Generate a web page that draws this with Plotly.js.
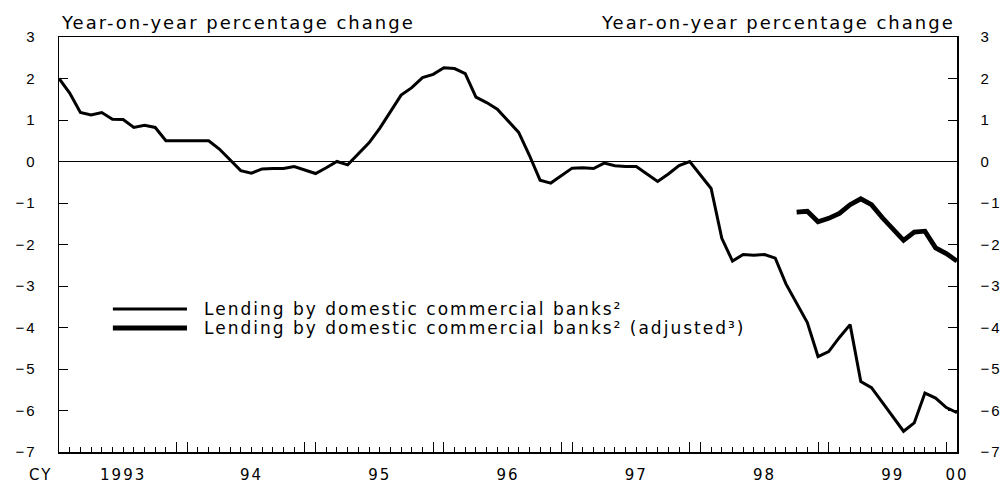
<!DOCTYPE html>
<html>
<head>
<meta charset="utf-8">
<script src="https://cdn.plot.ly/plotly-3.0.1.min.js"></script>
<style>
  html, body { margin: 0; padding: 0; background: #fff; }
  text { letter-spacing: 2px; }
</style>
</head>
<body>
<div id="chart" style="width:1006px;height:486px;"></div>
<script>
// Monthly data, January 1993 (index 0) to January 2000 (index 84)
const lending = [
  2.0, 1.65, 1.18, 1.12, 1.18, 1.02, 1.01, 0.82, 0.87, 0.82,
  0.5, 0.5, 0.5, 0.5, 0.5, 0.3, 0.05, -0.22, -0.28, -0.18,
  -0.17, -0.17, -0.12, -0.2, -0.29, -0.15, 0.0, -0.08, 0.18, 0.45,
  0.8, 1.2, 1.6, 1.78, 2.02, 2.1, 2.26, 2.24, 2.12, 1.55,
  1.42, 1.26, 0.98, 0.7, 0.15, -0.45, -0.52, -0.33, -0.16, -0.15,
  -0.17, -0.04, -0.1, -0.12, -0.12, -0.3, -0.48, -0.3, -0.1, 0.0,
  -0.32, -0.65, -1.85, -2.4, -2.24, -2.26, -2.24, -2.33, -2.95, -3.4,
  -3.88, -4.7, -4.58, -4.24, -3.93, -5.3, -5.45, -5.8, -6.14, -6.5,
  -6.3, -5.58, -5.7, -5.93, -6.05
];
const lendingAdjStart = 69; // October 1998
const lendingAdj = [
  -1.22, -1.2, -1.45, -1.37, -1.25, -1.04, -0.9, -1.04, -1.35, -1.64,
  -1.9, -1.7, -1.68, -2.08, -2.22, -2.4
];
const yearLabels = ['1993', '94', '95', '96', '97', '98', '99', '00'];
const seriesNames = [
  'Lending by domestic commercial banks²',
  'Lending by domestic commercial banks² (adjusted³)'
];
const axisTitle = 'Year-on-year percentage change';

const xMain = lending.map((_, i) => i);
const xAdj = lendingAdj.map((_, i) => i + lendingAdjStart);
const nYears = yearLabels.length - 1;
const yearBoundaryTicks = [];
for (let k = 1; k <= nYears; k++) {
  yearBoundaryTicks.push(k * 12 - 1);
  if (k < nYears) yearBoundaryTicks.push(k * 12);
}
const yearLabelPos = yearLabels.map((_, k) => k < nYears ? k * 12 + 6 : k * 12);

const traces = [
  { x: xMain, y: lending, type: 'scatter', mode: 'lines', name: seriesNames[0],
    line: { color: '#000', width: 3 }, showlegend: false, hoverinfo: 'skip' },
  { x: xAdj, y: lendingAdj, type: 'scatter', mode: 'lines', name: seriesNames[1],
    line: { color: '#000', width: 4.8 }, showlegend: false, hoverinfo: 'skip' },
  { x: [0], y: [null], xaxis: 'x2', yaxis: 'y2', type: 'scatter', mode: 'lines',
    showlegend: false, hoverinfo: 'skip' }
];

const fontFam = 'DejaVu Sans, Liberation Sans, Arial, sans-serif';
const tickFam = 'Liberation Sans, Arial, sans-serif';
const xr = [0, 84];
const yr = [-7, 3];

const layout = {
  width: 1006, height: 486,
  margin: { l: 59, r: 49, t: 37, b: 34 },
  paper_bgcolor: '#fff', plot_bgcolor: '#fff',
  font: { family: fontFam, color: '#000', size: 14 },
  showlegend: false,
  xaxis: {
    range: xr, showgrid: false, zeroline: false,
    showline: true, linecolor: '#000', linewidth: 1.5, mirror: true,
    tickmode: 'array', tickvals: yearBoundaryTicks, ticks: 'inside',
    ticklen: 10, tickwidth: 1, tickcolor: '#000', showticklabels: false,
    minor: { tickmode: 'linear', tick0: 0, dtick: 1, ticks: 'inside', ticklen: 5,
             tickwidth: 1, tickcolor: '#000', showgrid: false }
  },
  xaxis2: {
    overlaying: 'x', anchor: 'y', side: 'bottom', range: xr,
    showgrid: false, zeroline: false, showline: false, ticks: '',
    tickmode: 'array', tickvals: yearLabelPos, ticktext: yearLabels,
    tickfont: { size: 15 }, ticklabelstandoff: 12
  },
  yaxis: {
    range: yr, dtick: 1, tick0: 0, showgrid: false,
    zeroline: true, zerolinecolor: '#000', zerolinewidth: 1,
    showline: true, linecolor: '#000', linewidth: 1.5,
    ticks: 'inside', ticklen: 9, tickwidth: 1, tickcolor: '#000',
    tickfont: { size: 15, family: tickFam }, ticklabelstandoff: 18
  },
  yaxis2: {
    overlaying: 'y', anchor: 'x', side: 'right', range: yr, dtick: 1, tick0: 0,
    showgrid: false, zeroline: false,
    showline: true, linecolor: '#000', linewidth: 1.5,
    ticks: 'inside', ticklen: 9, tickwidth: 1, tickcolor: '#000',
    tickfont: { size: 15, family: tickFam }, ticklabelstandoff: 19
  },
  annotations: [
    { text: axisTitle, xref: 'paper', yref: 'paper', x: 0, y: 1,
      xanchor: 'left', yanchor: 'bottom', yshift: 2, showarrow: false,
      font: { size: 18 } },
    { text: axisTitle, xref: 'paper', yref: 'paper', x: 1, y: 1,
      xanchor: 'right', yanchor: 'bottom', yshift: 2, showarrow: false,
      font: { size: 18 } },
    { text: 'CY', xref: 'paper', yref: 'paper', x: -0.021, y: 0,
      xanchor: 'center', yanchor: 'top', yshift: -12, showarrow: false,
      font: { size: 15 } },
    { text: seriesNames[0], xref: 'paper', yref: 'paper', x: 0.159, y: 0.3446,
      xanchor: 'left', yanchor: 'middle', showarrow: false, font: { size: 17 } },
    { text: seriesNames[1], xref: 'paper', yref: 'paper', x: 0.159, y: 0.2988,
      xanchor: 'left', yanchor: 'middle', showarrow: false, font: { size: 17 } }
  ],
  shapes: [
    { type: 'line', xref: 'paper', yref: 'paper', x0: 0.060, x1: 0.1425,
      y0: 0.3446, y1: 0.3446, line: { color: '#000', width: 3 } },
    { type: 'line', xref: 'paper', yref: 'paper', x0: 0.060, x1: 0.1425,
      y0: 0.2988, y1: 0.2988, line: { color: '#000', width: 4.8 } }
  ]
};

Plotly.newPlot('chart', traces, layout, { staticPlot: true, displayModeBar: false });
</script>
</body>
</html>
